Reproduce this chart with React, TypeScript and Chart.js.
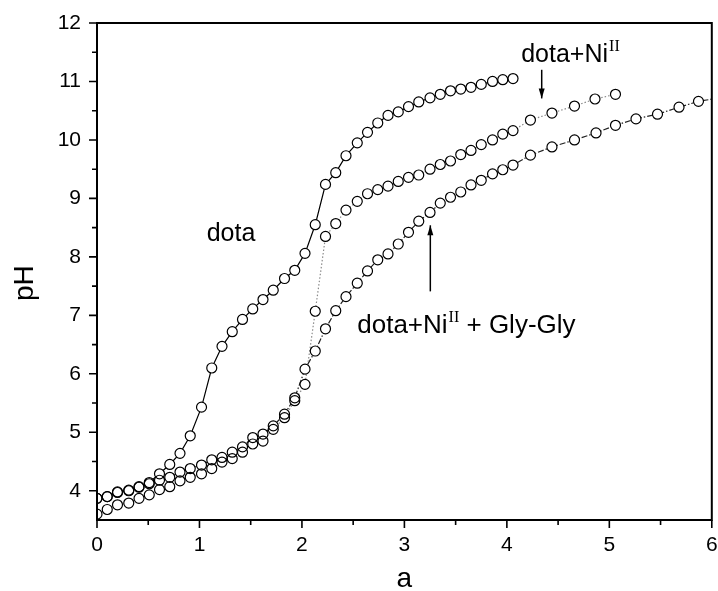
import React, { useEffect, useRef } from 'react';
import { Chart, registerables } from 'chart.js';
Chart.register(...registerables);

// ---- data (a = equivalents of base, pH) ----
const denseA = [0, 0.1, 0.2, 0.31, 0.41, 0.51, 0.61, 0.71, 0.81, 0.91, 1.02, 1.12, 1.22, 1.32, 1.42, 1.52, 1.62, 1.72, 1.83, 1.93, 2.03, 2.13, 2.23, 2.33, 2.43, 2.54, 2.64, 2.74, 2.84, 2.94, 3.04, 3.14, 3.25, 3.35, 3.45, 3.55, 3.65, 3.75, 3.86, 3.96, 4.06];

const dotaPH = [3.87, 3.9, 3.98, 4.01, 4.07, 4.14, 4.29, 4.45, 4.64, 4.94, 5.43, 6.1, 6.47, 6.72, 6.93, 7.11, 7.27, 7.43, 7.63, 7.77, 8.06, 8.55, 9.24, 9.44, 9.73, 9.95, 10.13, 10.29, 10.42, 10.48, 10.57, 10.65, 10.72, 10.78, 10.84, 10.87, 10.9, 10.95, 11.0, 11.03, 11.05];

const niDensePH = [3.6, 3.68, 3.76, 3.79, 3.87, 3.93, 4.02, 4.07, 4.17, 4.23, 4.29, 4.38, 4.49, 4.55, 4.66, 4.8, 4.85, 5.05, 5.25, 5.54, 5.82, 7.07, 8.35, 8.57, 8.8, 8.95, 9.08, 9.15, 9.21, 9.29, 9.36, 9.4, 9.5, 9.58, 9.64, 9.75, 9.82, 9.92, 10.0, 10.1, 10.16];
const niTailA = [4.23, 4.44, 4.66, 4.86, 5.06];
const niTailPH = [10.34, 10.46, 10.58, 10.7, 10.78];

const glyDensePH = [3.87, 3.9, 3.97, 4.0, 4.06, 4.12, 4.18, 4.23, 4.32, 4.38, 4.44, 4.53, 4.57, 4.66, 4.75, 4.91, 4.97, 5.11, 5.31, 5.59, 6.08, 6.39, 6.77, 7.08, 7.32, 7.55, 7.76, 7.95, 8.05, 8.22, 8.42, 8.61, 8.76, 8.92, 9.02, 9.11, 9.23, 9.31, 9.42, 9.49, 9.57];
const glyTailA = [4.23, 4.44, 4.66, 4.87, 5.06, 5.26, 5.47, 5.68, 5.87, 6.08];
const glyTailPH = [9.74, 9.88, 10.0, 10.12, 10.25, 10.36, 10.44, 10.56, 10.66, 10.72];

const xTickValues = [0, 1, 2, 3, 4, 5, 6];
const yTickValues = [4, 5, 6, 7, 8, 9, 10, 11, 12];
const xRange = [0, 6];
const yRange = [3.5, 12];

const FONT = "'Liberation Sans', Arial, Helvetica, sans-serif";
const SERIF = "'Liberation Serif', 'Times New Roman', serif";

const toPoints = (xs: number[], ys: number[]) => xs.map((x, i) => ({ x, y: ys[i] }));

const framePlugin = {
  id: 'frame',
  afterDraw(chart: any) {
    const { ctx, chartArea: ca, scales } = chart;
    const xs = scales.x;
    const ys = scales.y;
    ctx.save();
    ctx.strokeStyle = '#000';
    ctx.lineWidth = 2;
    ctx.strokeRect(ca.left, ca.top, ca.right - ca.left, ca.bottom - ca.top);
    ctx.lineWidth = 1.6;
    ctx.beginPath();
    xTickValues.forEach((v) => {
      const p = xs.getPixelForValue(v);
      ctx.moveTo(p, ca.bottom);
      ctx.lineTo(p, ca.bottom + 8);
    });
    xTickValues.slice(0, -1).forEach((v) => {
      const p = xs.getPixelForValue(v + 0.5);
      ctx.moveTo(p, ca.bottom);
      ctx.lineTo(p, ca.bottom + 5);
    });
    yTickValues.forEach((v) => {
      const p = ys.getPixelForValue(v);
      ctx.moveTo(ca.left, p);
      ctx.lineTo(ca.left - 8, p);
    });
    yTickValues.slice(0, -1).forEach((v) => {
      const p = ys.getPixelForValue(v + 0.5);
      ctx.moveTo(ca.left, p);
      ctx.lineTo(ca.left - 5, p);
    });
    ctx.stroke();

    // axis titles
    ctx.fillStyle = '#000';
    ctx.font = `28px ${FONT}`;
    ctx.textAlign = 'center';
    ctx.textBaseline = 'middle';
    ctx.fillText('a', (ca.left + ca.right) / 2, 579);
    ctx.save();
    ctx.translate(25, ys.getPixelForValue(7.55));
    ctx.rotate(-Math.PI / 2);
    ctx.fillText('pH', 0, 0);
    ctx.restore();

    // annotations
    const X = (v: number) => xs.getPixelForValue(v);
    const Y = (v: number) => ys.getPixelForValue(v);
    ctx.textAlign = 'left';
    ctx.textBaseline = 'alphabetic';
    const sup = `16px ${SERIF}`;

    ctx.font = `25px ${FONT}`;
    ctx.fillText('dota', X(1.07), Y(8.265));

    const label = (x: number, y: number, size: number, tail: string) => {
      const main = `${size}px ${FONT}`;
      ctx.font = main;
      ctx.fillText('dota+Ni', x, y);
      let cx = x + ctx.measureText('dota+Ni').width + 1;
      ctx.font = sup;
      ctx.fillText('II', cx, y - 11);
      cx += ctx.measureText('II').width;
      if (tail) {
        ctx.font = main;
        ctx.fillText(tail, cx, y);
      }
    };
    label(X(4.14), Y(11.34), 25, '');
    label(X(2.54), Y(6.69), 26, ' + Gly-Gly');

    const arrow = (x: number, yFrom: number, yTo: number) => {
      ctx.lineWidth = 1.5;
      ctx.beginPath();
      ctx.moveTo(x, yFrom);
      ctx.lineTo(x, yTo);
      ctx.stroke();
      const dir = yTo > yFrom ? 1 : -1;
      ctx.beginPath();
      ctx.moveTo(x, yTo);
      ctx.lineTo(x - 3, yTo - dir * 10);
      ctx.lineTo(x + 3, yTo - dir * 10);
      ctx.closePath();
      ctx.fill();
    };
    arrow(X(4.34), Y(11.2), Y(10.71));
    arrow(X(3.253), Y(7.41), Y(8.54));
    ctx.restore();
  },
};

export default function App() {
  const ref = useRef<HTMLCanvasElement | null>(null);
  useEffect(() => {
    if (!ref.current) return;
    const series = [
      { label: 'dota', pts: toPoints(denseA, dotaPH), color: '#000', dash: [] as number[] },
      {
        label: 'dota+NiII',
        pts: toPoints(denseA.concat(niTailA), niDensePH.concat(niTailPH)),
        color: '#8a8a8a',
        dash: [1.5, 2],
      },
      {
        label: 'dota+NiII + Gly-Gly',
        pts: toPoints(denseA.concat(glyTailA), glyDensePH.concat(glyTailPH)),
        color: '#222',
        dash: [6, 2, 1.5, 2],
      },
    ];
    const datasets: any[] = [];
    // connecting lines (drawn first)
    series.forEach((s) =>
      datasets.push({
        label: s.label + ' line',
        data: s.pts,
        showLine: true,
        borderColor: s.color,
        borderWidth: 1.2,
        borderDash: s.dash,
        pointRadius: 0,
        pointHoverRadius: 0,
        order: 3,
      })
    );
    // white disks hiding the lines inside the markers
    series.forEach((s) =>
      datasets.push({
        label: s.label + ' mask',
        data: s.pts,
        showLine: false,
        pointRadius: 5,
        pointHoverRadius: 5,
        pointBorderWidth: 0,
        pointBorderColor: 'rgba(0,0,0,0)',
        pointBackgroundColor: '#fff',
        order: 2,
      })
    );
    // open circle outlines
    series.forEach((s) =>
      datasets.push({
        label: s.label,
        data: s.pts,
        showLine: false,
        pointRadius: 5,
        pointHoverRadius: 5,
        pointBorderWidth: 1.2,
        pointBorderColor: '#000',
        pointBackgroundColor: 'rgba(255,255,255,0)',
        order: 1,
      })
    );
    const chart = new Chart(ref.current, {
      type: 'scatter',
      data: { datasets },
      options: {
        animation: false,
        responsive: false,
        devicePixelRatio: 1,
        layout: { padding: { left: 0, top: 23, right: 5, bottom: 0 } },
        plugins: { legend: { display: false }, tooltip: { enabled: false } },
        scales: {
          x: {
            type: 'linear',
            min: xRange[0],
            max: xRange[1],
            grid: { display: false, drawTicks: false },
            border: { display: false },
            ticks: {
              color: '#000',
              font: { family: FONT, size: 21 },
              padding: 13,
              maxRotation: 0,
              autoSkip: false,
            },
            afterBuildTicks: (s: any) => {
              s.ticks = xTickValues.map((v) => ({ value: v }));
            },
            afterFit: (s: any) => {
              s.height = 71;
              s.paddingLeft = 0;
              s.paddingRight = 0;
            },
          },
          y: {
            type: 'linear',
            min: yRange[0],
            max: yRange[1],
            grid: { display: false, drawTicks: false },
            border: { display: false },
            ticks: {
              color: '#000',
              font: { family: FONT, size: 21 },
              padding: 16,
              autoSkip: false,
            },
            afterBuildTicks: (s: any) => {
              s.ticks = yTickValues.map((v) => ({ value: v }));
            },
            afterFit: (s: any) => {
              s.width = 97;
              s.paddingTop = 0;
              s.paddingBottom = 0;
            },
          },
        },
      } as any,
      plugins: [framePlugin],
    });
    return () => chart.destroy();
  }, []);
  return (
    <div style={{ position: 'fixed', left: 0, top: 0, width: 718, height: 591, background: '#fff' }}>
      <canvas ref={ref} width={718} height={591} style={{ display: 'block', width: 718, height: 591 }} />
    </div>
  );
}
